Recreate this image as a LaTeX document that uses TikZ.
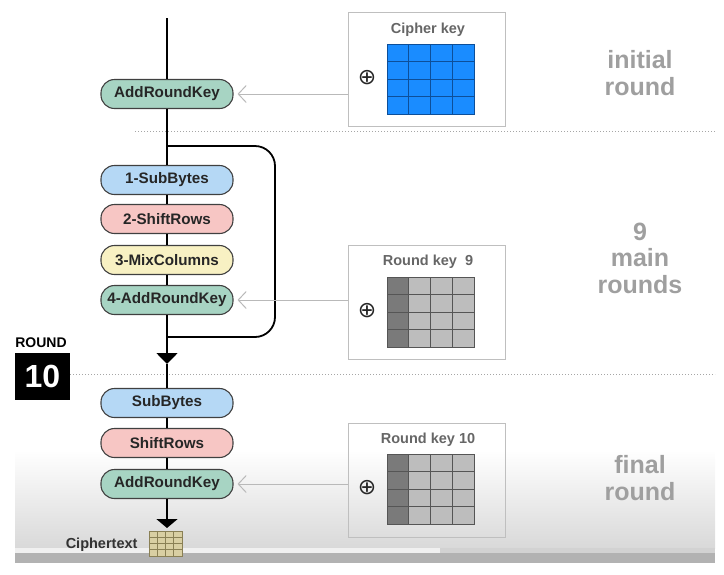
\documentclass[tikz,border=0pt]{standalone}
\usepackage{fontspec}
\setmainfont{Liberation Sans}
\newfontfamily\symfont{DejaVu Sans}
\usepackage{tikz}
\usetikzlibrary{arrows.meta}
\usepackage{xcolor}

\definecolor{subblue}{HTML}{B5D8F5}
\definecolor{shiftpink}{HTML}{F7C6C4}
\definecolor{mixyellow}{HTML}{F8F1C3}
\definecolor{addgreen}{HTML}{A7D4C3}
\definecolor{keyblue}{HTML}{1A8CFF}
\definecolor{keyline}{HTML}{0D4F99}
\definecolor{coldark}{HTML}{7A7A7A}
\definecolor{collight}{HTML}{BDBDBD}
\definecolor{gridline}{HTML}{555555}
\definecolor{ctfill}{HTML}{D9CFA3}
\definecolor{ctline}{HTML}{8A8055}

% 4x4 网格: #1,#2 左上角, #3,#4 单元宽高, #5 首列颜色, #6 其余颜色, #7 线色
\newcommand{\keygrid}[7]{%
  \foreach \c in {0,...,3}{
    \foreach \r in {0,...,3}{
      \ifnum\c=0 \def\cellcol{#5}\else\def\cellcol{#6}\fi
      \filldraw[fill=\cellcol, draw=#7, line width=0.8pt]
        ({#1+\c*#3},{#2+\r*#4}) rectangle ++(#3,#4);
    }
  }%
}

\begin{document}
\begin{tikzpicture}[x=1pt, y=-1pt]
        % ================= 样式定义 =================
        \tikzset{
            % 步骤节点: 圆角胶囊
            stage/.style={draw=black!75, line width=1.1pt, rounded corners=13.5pt, minimum width=132pt, minimum height=29pt, inner sep=0pt, font=\fontsize{15.2}{17}\selectfont\bfseries, text=black!85},
            % 主数据流
            flow/.style={line width=1.8pt, black},
            % 灰色密钥箭头
            keyarrow/.style={line width=1pt, gray!55, -{Straight Barb[length=8pt, width=17pt]}, shorten >=4pt},
            % 密钥框
            keybox/.style={draw=gray!50, line width=1pt, minimum width=157pt, minimum height=114pt, inner sep=0pt},
            keytitle/.style={font=\fontsize{14.5}{16}\selectfont\bfseries, text=black!60},
            xorsign/.style={font=\symfont\fontsize{22}{22}\selectfont, inner sep=0pt, text=black!85},
            % 右侧说明文字
            roundlabel/.style={align=center, font=\fontsize{25}{26.5}\selectfont\bfseries, text=gray!75},
            % 分隔虚线
            sep/.style={gray!70, line width=1pt, dotted}
        }

        \useasboundingbox (0,0) rectangle (724,574);

        % ================= 0. 底部渐变 =================
        \shade[top color=white, bottom color=gray!30] (15,450) rectangle (715,548);
        \fill[gray!35] (15,548) rectangle (715,553);
        \fill[gray!12] (15,548) rectangle (440,553);
        \fill[gray!60] (15,553) rectangle (715,563);

        % ================= 1. 分隔线 =================
        \draw[sep] (135,131) -- (715,131);
        \draw[sep] (70,374) -- (715,374);

        % ================= 2. 步骤节点 =================
        \node[stage, fill=addgreen] (ark0) at (167,94) {AddRoundKey};

        \node[stage, fill=subblue] (sb1) at (167,180) {1-SubBytes};
        \node[stage, fill=shiftpink] (sr1) at (167,219) {2-ShiftRows};
        \node[stage, fill=mixyellow] (mc1) at (167,260) {3-MixColumns};
        \node[stage, fill=addgreen] (ark1) at (167,300) {4-AddRoundKey};

        \node[stage, fill=subblue] (sb2) at (167,403) {SubBytes};
        \node[stage, fill=shiftpink] (sr2) at (167,443) {ShiftRows};
        \node[stage, fill=addgreen] (ark2) at (167,484) {AddRoundKey};

        % 辅助坐标
        \coordinate (top) at (167,18);
        \coordinate (split) at (167,146);
        \coordinate (loopTop) at (275,146);
        \coordinate (loopBot) at (275,337);
        \coordinate (join) at (167,337);
        \coordinate (tip10) at (167,364);
        \coordinate (tipEnd) at (167,528);

        % ================= 3. 主数据流 =================
        \draw[flow] (top) -- (ark0);
        \draw[flow] (ark0) -- (sb1);
        \draw[flow] (sb1) -- (sr1);
        \draw[flow] (sr1) -- (mc1);
        \draw[flow] (mc1) -- (ark1);
        \draw[flow, -{Triangle[length=11pt, width=21pt]}] (ark1) -- (tip10);
        \draw[flow] (tip10) -- (sb2);
        \draw[flow] (sb2) -- (sr2);
        \draw[flow] (sr2) -- (ark2);
        \draw[flow, -{Triangle[length=9pt, width=21pt]}] (ark2) -- (tipEnd);

        % 9 轮循环
        \draw[flow, rounded corners=20pt] (split) -- (loopTop) -- (loopBot) -- (join);

        % ================= 4. 密钥框 =================
        \node[keybox] (ck) at (427,69) {};
        \node[keytitle] (cktitle) at (428,30) {Cipher key};
        \node[xorsign] (ckxor) at (367,78) {⊕};
        \keygrid{387}{44}{21.75}{17.5}{keyblue}{keyblue}{keyline}

        \node[keybox] (rk9) at (427,302) {};
        \node[keytitle] (rk9title) at (428,262) {Round key\ \ 9};
        \node[xorsign] (rk9xor) at (367,311) {⊕};
        \keygrid{387}{277}{21.75}{17.5}{coldark}{collight}{gridline}

        \node[keybox] (rk10) at (427,480) {};
        \node[keytitle] (rk10title) at (428,440) {Round key 10};
        \node[xorsign] (rk10xor) at (367,488) {⊕};
        \keygrid{387}{454}{21.75}{17.5}{coldark}{collight}{gridline}

        % 密钥箭头
        \draw[keyarrow] (ck.west |- ark0) -- (ark0.east);
        \draw[keyarrow] (rk9.west |- ark1) -- (ark1.east);
        \draw[keyarrow] (rk10.west |- ark2) -- (ark2.east);

        % ================= 5. 右侧说明 =================
        \node[roundlabel] (lbl0) at (640,73) {initial\\round};
        \node[roundlabel] (lbl9) at (640,258) {9\\main\\rounds};
        \node[roundlabel] (lbl10) at (640,478) {final\\round};

        % ================= 6. 第 10 轮标记 =================
        \node[font=\fontsize{14}{15}\selectfont\bfseries] (roundtxt) at (41,343) {ROUND};
        \node[fill=black, text=white, minimum width=55pt, minimum height=47pt, inner sep=0pt, font=\fontsize{32}{32}\selectfont\bfseries] (round10) at (42.5,376) {10};

        % ================= 7. 密文 =================
        \node[anchor=east, font=\fontsize{14.5}{16}\selectfont\bfseries, text=black!80] (ct) at (141,545) {Ciphertext};
        \keygrid{149}{531}{8.25}{6.25}{ctfill}{ctfill}{ctline}

    \end{tikzpicture}
\end{document}
